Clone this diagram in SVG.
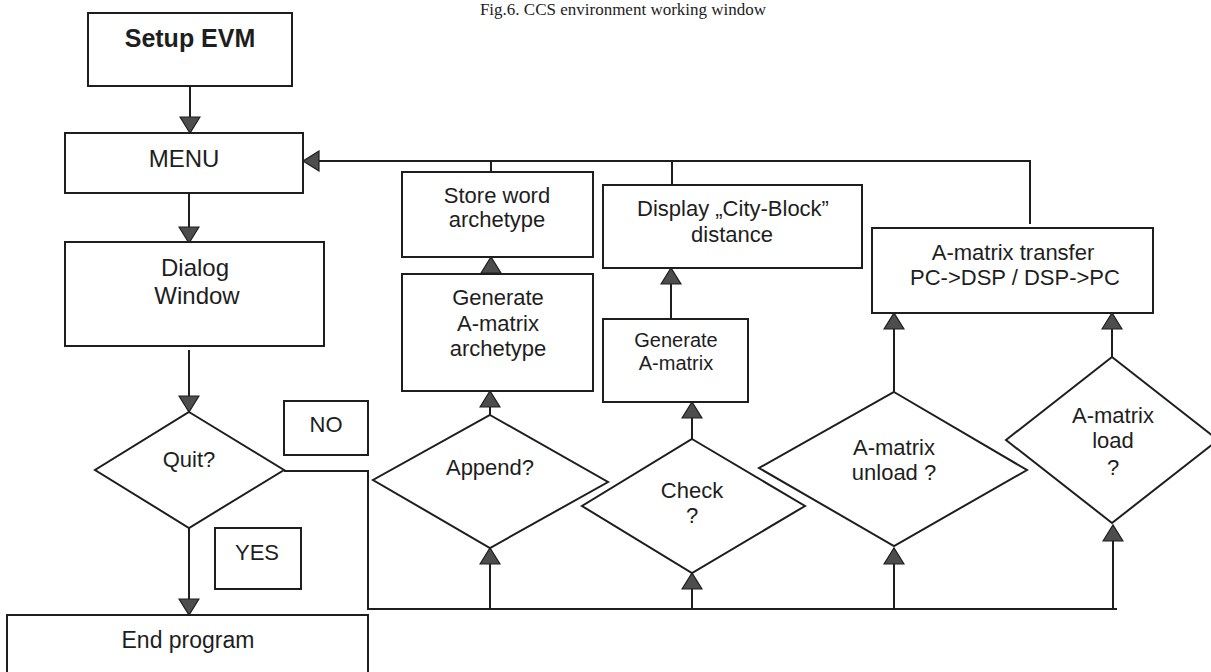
<svg xmlns="http://www.w3.org/2000/svg" width="1211" height="672" viewBox="0 0 1211 672">
<style>
.box{fill:#fff;stroke:#1e1e1e;stroke-width:2}
.t{font-family:"Liberation Sans",Arial,sans-serif;font-size:22px;fill:#1e1e1e;text-anchor:middle}
.big{font-size:24px}
.sm{font-size:20px}
.b{font-weight:bold;font-size:25px}
.cap{font-family:"Liberation Serif","Times New Roman",serif;font-size:17px;fill:#222;text-anchor:middle}
.ln{fill:none;stroke:#1e1e1e;stroke-width:2}
.ar{marker-end:url(#ah)}
</style>
<defs>
<marker id="ah" markerUnits="userSpaceOnUse" markerWidth="19" markerHeight="22" viewBox="0 0 19 22" refX="17" refY="11" orient="auto">
<path d="M1,1 L17,11 L1,21 Z" fill="#4d4d4d" stroke="#1e1e1e" stroke-width="1.2"/>
</marker>
</defs>
<rect width="1211" height="672" fill="#fff"/>
<text class="cap" x="623" y="15">Fig.6.  CCS environment working window</text>

<g id="connectors">
<path class="ln ar" d="M190,86 V133"/>
<path class="ln ar" d="M189,193 V243"/>
<path class="ln ar" d="M189,350 V412"/>
<path class="ln ar" d="M189,528 V615"/>
<path class="ln" d="M284,471 H368 V609 H1117"/>
<path class="ln ar" d="M490,609 V548"/>
<path class="ln ar" d="M692,609 V573"/>
<path class="ln ar" d="M894,609 V548"/>
<path class="ln ar" d="M1113,609 V525"/>
<path class="ln ar" d="M1030,224 V161 H303"/>
<path class="ln" d="M491,172 V161"/>
<path class="ln" d="M672,185 V161"/>
<path class="ln ar" d="M491,274 V257"/>
<path class="ln ar" d="M490,415 V391"/>
<path class="ln ar" d="M671,319 V268"/>
<path class="ln ar" d="M692,439 V402"/>
<path class="ln ar" d="M894,392 V313"/>
<path class="ln ar" d="M1112,357 V313"/>
</g>

<g id="setup"><rect class="box" x="88" y="13" width="204" height="73"/><text class="t b" x="190" y="47">Setup EVM</text></g>
<g id="menu"><rect class="box" x="65" y="133" width="238" height="60"/><text class="t big" x="184" y="167">MENU</text></g>
<g id="dialog"><rect class="box" x="65" y="242" width="259" height="104"/><text class="t big" x="195" y="276">Dialog</text><text class="t big" x="197" y="304">Window</text></g>
<g id="quit"><polygon class="box" points="189,412 284,470 189,528 95,470"/><text class="t" x="189" y="467">Quit?</text></g>
<g id="no"><rect class="box" x="284" y="401" width="84" height="54"/><text class="t" x="326" y="432">NO</text></g>
<g id="yes"><rect class="box" x="215" y="528" width="86" height="61"/><text class="t" x="257" y="560">YES</text></g>
<g id="end"><rect class="box" x="7" y="615" width="361" height="70"/><text class="t" x="188" y="648" style="font-size:23px">End program</text></g>
<g id="store"><rect class="box" x="402" y="172" width="191" height="85"/><text class="t" x="497" y="203">Store word</text><text class="t" x="497" y="227">archetype</text></g>
<g id="genarch"><rect class="box" x="402" y="274" width="191" height="117"/><text class="t" x="498" y="305">Generate</text><text class="t" x="498" y="331">A-matrix</text><text class="t" x="498" y="356">archetype</text></g>
<g id="display"><rect class="box" x="603" y="185" width="259" height="83"/><text class="t" x="733" y="216">Display „City-Block”</text><text class="t" x="732" y="242">distance</text></g>
<g id="gena"><rect class="box" x="603" y="319" width="145" height="83"/><text class="t sm" x="676" y="347">Generate</text><text class="t sm" x="676" y="370">A-matrix</text></g>
<g id="transfer"><rect class="box" x="872" y="228" width="281" height="85"/><text class="t" x="1013" y="260">A-matrix transfer</text><text class="t" x="1015" y="285">PC-&gt;DSP / DSP-&gt;PC</text></g>
<g id="append"><polygon class="box" points="490,415 608,482 490,548 373,480"/><text class="t" x="490" y="475">Append?</text></g>
<g id="check"><polygon class="box" points="692,439 805,506 692,573 582,506"/><text class="t" x="692" y="498">Check</text><text class="t" x="692" y="523">?</text></g>
<g id="unload"><polygon class="box" points="894,392 1027,470 894,546 759,468"/><text class="t" x="894" y="455">A-matrix</text><text class="t" x="894" y="480">unload ?</text></g>
<g id="load"><polygon class="box" points="1112,357 1218,440 1112,523 1006,440"/><text class="t" x="1113" y="423">A-matrix</text><text class="t" x="1113" y="448">load</text><text class="t" x="1113" y="475">?</text></g>
</svg>
